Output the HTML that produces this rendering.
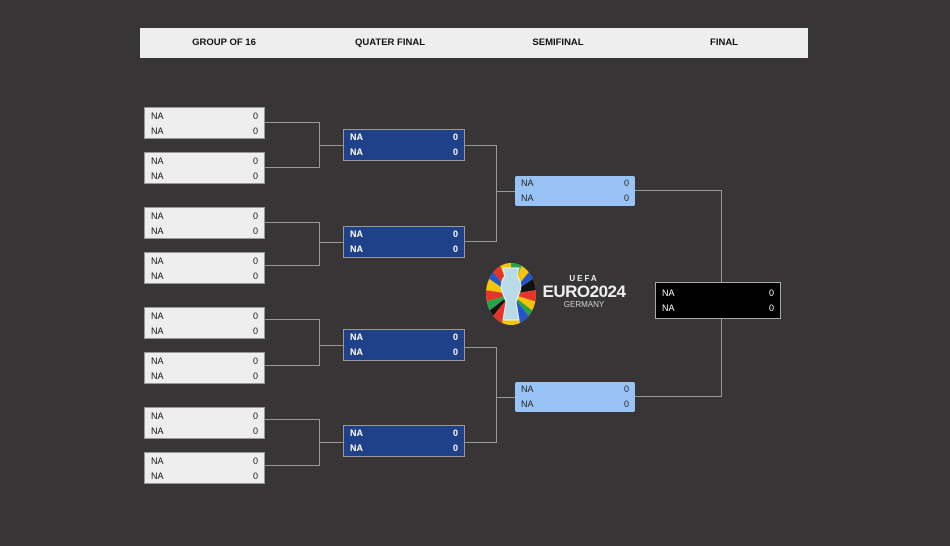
<!DOCTYPE html>
<html><head><meta charset="utf-8">
<style>
body{margin:0;width:950px;height:546px;background:#373535;position:relative;overflow:hidden;font-family:"Liberation Sans",sans-serif;}
.hdr{position:absolute;left:140px;top:28px;width:668px;height:30px;background:#eeeeee;}
.hl{position:absolute;top:0;line-height:30px;font-size:9.5px;font-weight:bold;color:#111;transform:translateX(-50%);white-space:nowrap;}
.b{position:absolute;box-sizing:border-box;font-size:9px;}
.b div{position:absolute;left:6px;right:6px;height:15px;line-height:15px;}
.b span{float:right;}
.r{background:#eeeeee;border:1px solid #999;color:#111;width:121px;height:32px;}
.r div:first-child{top:1px}.r div:last-child{top:16px}
.q{background:#1f4189;border:1px solid #9a9a9a;color:#fff;font-weight:bold;width:122px;height:32px;}
.q div:first-child{top:0px}.q div:last-child{top:15px}
.s{background:#99c2f5;color:#222;width:120px;height:30px;border-radius:2px;}
.s div:first-child{top:0px}.s div:last-child{top:15px}
.f{background:#000;border:1px solid #aaa;color:#fff;width:126px;height:37px;}
.f div:first-child{top:3px}.f div:last-child{top:18px}
</style></head><body>
<div class="hdr">
<div class="hl" style="left:84px">GROUP OF 16</div>
<div class="hl" style="left:250px">QUATER FINAL</div>
<div class="hl" style="left:418px">SEMIFINAL</div>
<div class="hl" style="left:584px">FINAL</div>
</div>
<svg width="950" height="546" style="position:absolute;left:0;top:0" fill="none" stroke="#9a9a9a" stroke-width="1">
<path d="M264 122.5H319.5V167.5H264M319.5 145.5H343"/>
<path d="M264 222.5H319.5V265.5H264M319.5 242.5H343"/>
<path d="M264 319.5H319.5V365.5H264M319.5 345.5H343"/>
<path d="M264 419.5H319.5V465.5H264M319.5 442.5H343"/>
<path d="M464 145.5H496.5V241.5H464M496.5 191.5H515"/>
<path d="M464 347.5H496.5V442.5H464M496.5 397.5H515"/>
<path d="M635 190.5H721.5V282M721.5 319V396.5H635"/>
</svg>
<div class="b r" style="left:144px;top:107px"><div>NA<span>0</span></div><div>NA<span>0</span></div></div>
<div class="b r" style="left:144px;top:152px"><div>NA<span>0</span></div><div>NA<span>0</span></div></div>
<div class="b r" style="left:144px;top:207px"><div>NA<span>0</span></div><div>NA<span>0</span></div></div>
<div class="b r" style="left:144px;top:252px"><div>NA<span>0</span></div><div>NA<span>0</span></div></div>
<div class="b r" style="left:144px;top:307px"><div>NA<span>0</span></div><div>NA<span>0</span></div></div>
<div class="b r" style="left:144px;top:352px"><div>NA<span>0</span></div><div>NA<span>0</span></div></div>
<div class="b r" style="left:144px;top:407px"><div>NA<span>0</span></div><div>NA<span>0</span></div></div>
<div class="b r" style="left:144px;top:452px"><div>NA<span>0</span></div><div>NA<span>0</span></div></div>
<div class="b q" style="left:343px;top:129px"><div>NA<span>0</span></div><div>NA<span>0</span></div></div>
<div class="b q" style="left:343px;top:226px"><div>NA<span>0</span></div><div>NA<span>0</span></div></div>
<div class="b q" style="left:343px;top:329px"><div>NA<span>0</span></div><div>NA<span>0</span></div></div>
<div class="b q" style="left:343px;top:425px"><div>NA<span>0</span></div><div>NA<span>0</span></div></div>
<div class="b s" style="left:515px;top:176px"><div>NA<span>0</span></div><div>NA<span>0</span></div></div>
<div class="b s" style="left:515px;top:382px"><div>NA<span>0</span></div><div>NA<span>0</span></div></div>
<div class="b f" style="left:655px;top:282px"><div>NA<span>0</span></div><div>NA<span>0</span></div></div>
<svg width="52" height="64" style="position:absolute;left:485px;top:262px" viewBox="0 0 52 64">
<defs><clipPath id="c"><ellipse cx="26" cy="32" rx="25" ry="31"/></clipPath></defs>
<g clip-path="url(#c)">
<rect width="52" height="64" fill="#f2f2f2"/>
<path d="M26 32L0 0H14Z" fill="#e5352b"/><path d="M26 32L14 0H26Z" fill="#f6c400"/>
<path d="M26 32L26 0H38Z" fill="#2aa24a"/><path d="M26 32L38 0H52Z" fill="#f6c400"/>
<path d="M26 32L52 0V14Z" fill="#2456c8"/><path d="M26 32L52 14V28Z" fill="#111"/>
<path d="M26 32L52 28V40Z" fill="#e5352b"/><path d="M26 32L52 40V52Z" fill="#f6c400"/>
<path d="M26 32L52 52V64Z" fill="#2aa24a"/><path d="M26 32L52 64H36Z" fill="#2456c8"/>
<path d="M26 32L0 14V0Z" fill="#2456c8"/><path d="M26 32L0 28V14Z" fill="#f6c400"/>
<path d="M26 32L0 40V28Z" fill="#e5352b"/><path d="M26 32L0 52V40Z" fill="#2aa24a"/>
<path d="M26 32L0 64V52Z" fill="#111"/><path d="M26 32L16 64H0Z" fill="#e5352b"/>
<path d="M26 32L36 64H16Z" fill="#f6c400"/>
</g>
<path d="M18 6h16l-2 8c4 4 5 12 2 18l-3 8 3 18h-16l3-18-3-8c-3-6-2-14 2-18z" fill="#b9dbe8" stroke="#e8f4f8" stroke-width="1"/>
</svg>
<div style="position:absolute;left:538px;top:274px;width:92px;text-align:center;color:#eee;">
<div style="font-size:8px;font-weight:bold;letter-spacing:2px;line-height:9px">UEFA</div>
<div style="font-size:17px;font-weight:bold;line-height:17px;letter-spacing:-0.5px">EURO2024</div>
<div style="font-size:8px;line-height:9px;color:#cfcfcf">GERMANY</div>
</div>
</body></html>
